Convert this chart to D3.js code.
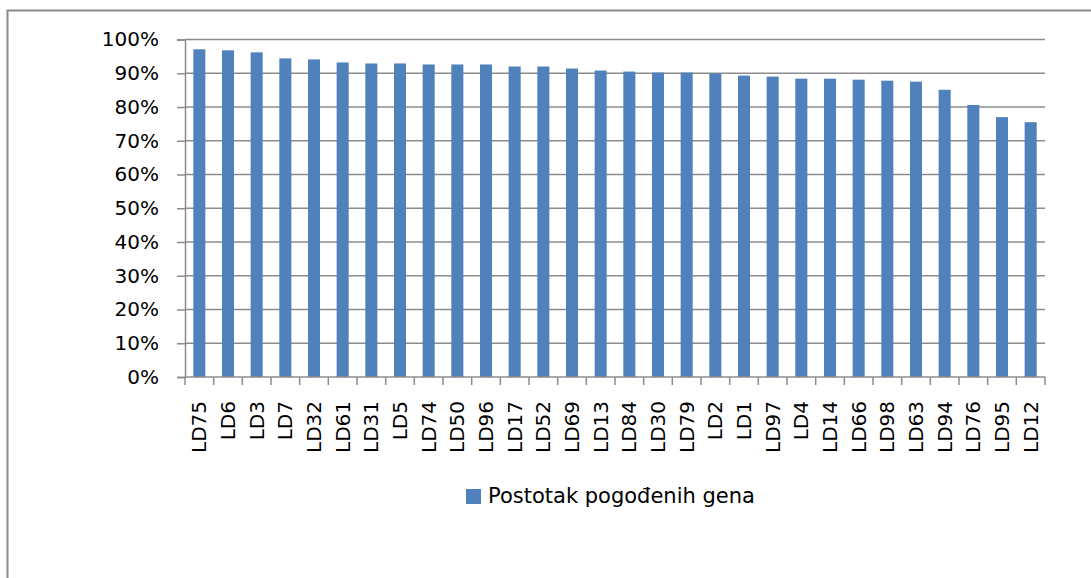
<!DOCTYPE html>
<html>
<head>
<meta charset="utf-8">
<script src="https://cdn.jsdelivr.net/npm/d3@7"></script>
<style>
  body { margin: 0; background: #fff; }
  svg { display: block; font-family: "DejaVu Sans", sans-serif; }
</style>
</head>
<body>
<svg id="chart" width="1091" height="578"></svg>
<script>
// categories and values
var labels = ["LD75","LD6","LD3","LD7","LD32","LD61","LD31","LD5","LD74","LD50",
              "LD96","LD17","LD52","LD69","LD13","LD84","LD30","LD79","LD2","LD1",
              "LD97","LD4","LD14","LD66","LD98","LD63","LD94","LD76","LD95","LD12"];
var values = [97.1,96.8,96.2,94.4,94.1,93.2,92.9,92.9,92.6,92.6,
              92.6,92.0,92.0,91.4,90.8,90.5,90.2,90.2,89.9,89.3,
              89.0,88.4,88.4,88.1,87.8,87.5,85.1,80.6,77.0,75.5];
var yTicks = [0,10,20,30,40,50,60,70,80,90,100];
var seriesName = "Postotak pogođenih gena";

var color = "#4f81bd";
var axisGrey = "#8c8c8c";
var fontSize = "20px";

var svg = d3.select("#chart");

// outer chart frame (only top and left edges show in the frame)
svg.append("rect")
  .attr("x", 7.5).attr("y", 10.5)
  .attr("width", 1200).attr("height", 700)
  .attr("fill", "none")
  .attr("stroke", axisGrey)
  .attr("stroke-width", 2);

var plot = {left: 185, right: 1045, top: 39.5, bottom: 377};

var x = d3.scaleBand()
  .domain(labels)
  .range([plot.left, plot.right])
  .paddingInner(0.58)
  .paddingOuter(0.29);

var y = d3.scaleLinear()
  .domain([0, 100])
  .range([plot.bottom, plot.top]);

// gridlines
svg.append("g")
  .selectAll("line")
  .data(yTicks.filter(d => d > 0))
  .join("line")
  .attr("x1", plot.left).attr("x2", plot.right)
  .attr("y1", d => y(d)).attr("y2", d => y(d))
  .attr("stroke", axisGrey)
  .attr("stroke-width", 1.5);

// bars
svg.append("g")
  .selectAll("rect")
  .data(values)
  .join("rect")
  .attr("x", (d, i) => x(labels[i]))
  .attr("y", d => y(d))
  .attr("width", x.bandwidth())
  .attr("height", d => y(0) - y(d))
  .attr("fill", color);

// y axis
var yAxis = svg.append("g")
  .attr("transform", `translate(${plot.left},0)`)
  .call(d3.axisLeft(y).tickValues(yTicks).tickSize(8).tickPadding(18)
    .tickFormat(d => d + "%"));
yAxis.select(".domain").attr("stroke", axisGrey).attr("stroke-width", 1.5);
yAxis.selectAll(".tick line").attr("stroke", axisGrey).attr("stroke-width", 1.5);
yAxis.selectAll("text")
  .attr("fill", "#000")
  .style("font-size", fontSize)
  .style("font-family", "'DejaVu Sans', sans-serif");

// x axis: ticks sit on the band boundaries
var bounds = d3.range(labels.length + 1).map(i => plot.left + i * (plot.right - plot.left) / labels.length);
var xg = svg.append("g");
xg.append("line")
  .attr("x1", plot.left).attr("x2", plot.right)
  .attr("y1", plot.bottom).attr("y2", plot.bottom)
  .attr("stroke", axisGrey).attr("stroke-width", 1.5);
xg.selectAll(".tk")
  .data(bounds)
  .join("line")
  .attr("class", "tk")
  .attr("x1", d => d).attr("x2", d => d)
  .attr("y1", plot.bottom).attr("y2", plot.bottom + 8)
  .attr("stroke", axisGrey).attr("stroke-width", 1.5);
xg.selectAll("text")
  .data(labels)
  .join("text")
  .attr("transform", d => `translate(${x(d) + x.bandwidth() / 2 + 7},${plot.bottom + 24}) rotate(-90)`)
  .attr("text-anchor", "end")
  .attr("fill", "#000")
  .style("font-size", fontSize)
  .text(d => d);

// legend
var legend = svg.append("g").attr("transform", "translate(466,489)");
legend.append("rect")
  .attr("width", 15).attr("height", 15)
  .attr("fill", color);
legend.append("text")
  .attr("x", 22).attr("y", 14)
  .attr("fill", "#000")
  .style("font-size", "21px")
  .text(seriesName);
</script>
</body>
</html>
